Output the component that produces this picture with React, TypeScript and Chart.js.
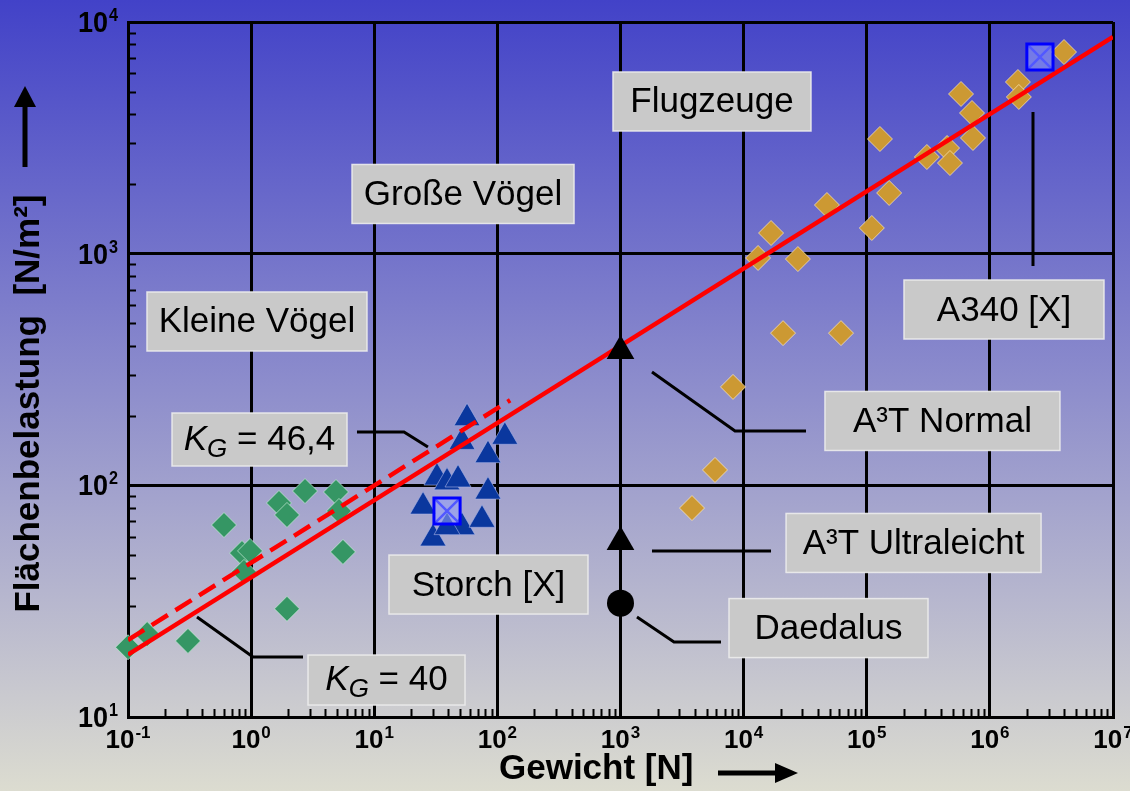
import React, { useEffect, useRef } from 'react';
import { Chart, registerables } from 'chart.js';

Chart.register(...registerables);

const FONT = '"Liberation Sans", Arial, Helvetica, sans-serif';

// ---- axes ----
const xDecades = [0.1, 1, 10, 100, 1000, 1e4, 1e5, 1e6, 1e7];
const xTickExponents = ['-1', '0', '1', '2', '3', '4', '5', '6', '7'];
const yDecades = [10, 100, 1000, 10000];
const yTickExponents = ['1', '2', '3', '4'];
const tickBase = '10';
const minorMultipliers = [2, 3, 4, 5, 6, 7, 8, 9];
const xTitle = 'Gewicht [N]';
const yTitle = 'Flächenbelastung  [N/m²]';

// ---- data: Kleine Vögel (green diamonds) ----
const kleineVoegelGewicht = [0.1, 0.143, 0.307, 0.602, 0.843, 0.98, 0.875, 1.684, 1.956, 2.74, 4.89, 5.17, 5.57, 1.956];
const kleineVoegelBelastung = [20, 22.8, 21.3, 67.4, 51, 52.1, 42.3, 83.9, 74.5, 94.5, 93.6, 77.5, 51.6, 29.3];

// ---- data: Große Vögel / Storch (blue triangles) ----
const grosseVoegelGewicht = [56.7, 115, 51.6, 83.9, 32.3, 39, 47.9, 83.9, 24.9, 51.6, 75, 30, 39];
const grosseVoegelBelastung = [195, 162, 154, 135, 108, 103, 106, 94, 81, 66, 71, 59, 66];

// ---- data: Flugzeuge (orange diamonds) ----
const flugzeugeGewicht = [4.0e6, 1.69e6, 1.72e6, 5.83e5, 7.16e5, 7.29e5, 4.49e5, 3.08e5, 4.74e5, 1.28e5, 1.52e5, 1.10e5, 4.75e4, 1.67e4, 1.31e4, 2.76e4, 2.09e4, 6.18e4, 8200, 5855, 3808];
const flugzeugeBelastung = [7420, 5508, 4746, 4889, 4048, 3158, 2858, 2614, 2462, 3126, 1828, 1291, 1622, 1228, 958, 948, 454, 454, 266, 116.5, 79.8];

// ---- data: reference points [X] (Storch, A340) ----
const referenzGewicht = [39, 2.55e6];
const referenzBelastung = [77.5, 7060];

// ---- data: A3T (Normal, Ultraleicht) and Daedalus ----
const a3tGewicht = [1000, 1000];
const a3tBelastung = [380, 57];
const daedalusGewicht = [1000];
const daedalusBelastung = [31];

// ---- data: fit lines K_G = 40 (solid) and K_G = 46,4 (dashed) ----
const kg40Gewicht = [0.1, 1e7];
const kg40Belastung = [18.6, 8620];
const kg464Gewicht = [0.1, 127];
const kg464Belastung = [21.5, 233];

// ---- annotation leaders (data coordinates) ----
const leaderKg464X = [7.24, 17.44, 27.3];
const leaderKg464Y = [169.9, 169.9, 146.4];
const leaderKg40X = [0.3634, 1.036, 2.638];
const leaderKg40Y = [27.02, 18.16, 18.16];
const leaderNormalX = [1802, 8511, 32110];
const leaderNormalY = [308.4, 171.6, 171.6];
const leaderUltraX = [1802, 16690];
const leaderUltraY = [52.1, 52.1];
const leaderDaedalusX = [1361, 2720, 6549];
const leaderDaedalusY = [27.02, 21.08, 21.08];
const leaderA340X = [2.24e6, 2.24e6];
const leaderA340Y = [4088, 884.6];

// ---- label boxes (anchors in data coordinates) ----
const boxLabels = ['Flugzeuge', 'Große Vögel', 'Kleine Vögel', 'A340 [X]', 'A³T Normal', 'A³T Ultraleicht', 'Daedalus', 'Storch [X]'];
const boxLabelX = [5534, 52.6, 1.116, 1.302e6, 4.12e5, 2.4e5, 48920, 84.7];
const boxLabelY = [4538, 1810, 509.6, 574, 189.6, 56.4, 24.2, 37.3];
const kgValues = ['46,4', '40'];
const kgLabelX = [1.17, 12.58];
const kgLabelY = [157.7, 14.44];

// ---- styles ----
const boxWidths = [198, 222, 220, 200, 235, 255, 199, 199];
const kgBoxWidths = [175, 157];
const kgBoxHeights = [53, 50];

const pts = (xs: number[], ys: number[]) => xs.map((x, i) => ({ x, y: ys[i] }));

const leader = (xs: number[], ys: number[]) => ({
  data: pts(xs, ys),
  showLine: true,
  borderColor: '#000',
  borderWidth: 3,
  pointRadius: 0,
  order: 5,
});

function drawPower(
  ctx: CanvasRenderingContext2D,
  exp: string,
  x: number,
  baseline: number,
  align: 'center' | 'right',
  baseSize: number,
  expSize: number,
  sx: number,
  rise: number,
) {
  const baseFont = `bold ${baseSize}px ${FONT}`;
  const expFont = `bold ${expSize}px ${FONT}`;
  ctx.font = baseFont;
  const wb = ctx.measureText(tickBase).width;
  ctx.font = expFont;
  const we = ctx.measureText(exp).width;
  const total = (wb + we + 1) * sx;
  const left = align === 'center' ? x - total / 2 : x - total;
  ctx.save();
  ctx.translate(left, baseline);
  ctx.scale(sx, 1);
  ctx.fillStyle = '#000';
  ctx.textAlign = 'left';
  ctx.textBaseline = 'alphabetic';
  ctx.font = baseFont;
  ctx.fillText(tickBase, 0, 0);
  ctx.font = expFont;
  ctx.fillText(exp, wb + 1, -rise);
  ctx.restore();
}

const decorPlugin = {
  id: 'decor',
  beforeDraw(chart: any) {
    const { ctx, width, height } = chart;
    const g = ctx.createLinearGradient(0, 0, 0, height);
    g.addColorStop(0, '#4242c8');
    g.addColorStop(1, '#dcdcd0');
    ctx.save();
    ctx.fillStyle = g;
    ctx.fillRect(0, 0, width, height);
    ctx.restore();
  },
  beforeDatasetsDraw(chart: any) {
    const { ctx, chartArea } = chart;
    const xs = chart.scales.x;
    const ys = chart.scales.y;
    ctx.save();
    // minor ticks
    ctx.strokeStyle = '#000';
    ctx.lineWidth = 2;
    ctx.beginPath();
    for (let i = 0; i < xDecades.length - 1; i++) {
      for (const m of minorMultipliers) {
        const px = Math.round(xs.getPixelForValue(xDecades[i] * m)) + 0.5;
        ctx.moveTo(px, chartArea.bottom);
        ctx.lineTo(px, chartArea.bottom - 8);
      }
    }
    for (let i = 0; i < yDecades.length - 1; i++) {
      for (const m of minorMultipliers) {
        const py = Math.round(ys.getPixelForValue(yDecades[i] * m)) + 0.5;
        ctx.moveTo(chartArea.left, py);
        ctx.lineTo(chartArea.left + 8, py);
      }
    }
    ctx.stroke();

    const drawBox = (cx: number, cy: number, w: number, h: number) => {
      ctx.fillStyle = '#c9c9c9';
      ctx.fillRect(cx - w / 2, cy - h / 2, w, h);
      ctx.strokeStyle = 'rgba(236,236,236,0.9)';
      ctx.lineWidth = 1.5;
      ctx.strokeRect(cx - w / 2, cy - h / 2, w, h);
    };

    // label boxes
    boxLabels.forEach((t, i) => {
      const cx = xs.getPixelForValue(boxLabelX[i]);
      const cy = ys.getPixelForValue(boxLabelY[i]);
      drawBox(cx, cy, boxWidths[i], 59);
      ctx.fillStyle = '#000';
      ctx.font = `35px ${FONT}`;
      ctx.textAlign = 'center';
      ctx.textBaseline = 'alphabetic';
      ctx.fillText(t, cx, cy + 11);
    });

    // K_G boxes with rich text
    kgValues.forEach((v, i) => {
      const cx = xs.getPixelForValue(kgLabelX[i]);
      const cy = ys.getPixelForValue(kgLabelY[i]);
      drawBox(cx, cy, kgBoxWidths[i], kgBoxHeights[i]);
      const segs = [
        { t: 'K', f: `italic 35px ${FONT}`, dy: 0 },
        { t: 'G', f: `italic 26px ${FONT}`, dy: 7 },
        { t: ' = ' + v, f: `35px ${FONT}`, dy: 0 },
      ];
      let total = 0;
      const ws = segs.map((s) => {
        ctx.font = s.f;
        const w = ctx.measureText(s.t).width;
        total += w;
        return w;
      });
      let x = cx - total / 2;
      ctx.fillStyle = '#000';
      ctx.textAlign = 'left';
      ctx.textBaseline = 'alphabetic';
      segs.forEach((s, k) => {
        ctx.font = s.f;
        ctx.fillText(s.t, x, cy + 10 + s.dy);
        x += ws[k];
      });
    });
    ctx.restore();
  },
  afterDraw(chart: any) {
    const { ctx, chartArea } = chart;
    const xs = chart.scales.x;
    const ys = chart.scales.y;
    // tick labels (10 with superscript exponent)
    xDecades.forEach((v, i) => {
      drawPower(ctx, xTickExponents[i], xs.getPixelForValue(v), chartArea.bottom + 31, 'center', 26, 17, 1, 10);
    });
    yDecades.forEach((v, i) => {
      drawPower(ctx, yTickExponents[i], chartArea.left - 10, ys.getPixelForValue(v) + 10, 'right', 30, 18, 0.9, 11);
    });

    ctx.save();
    ctx.fillStyle = '#000';
    // y arrow (pointing up), left of chart
    const ax = chartArea.left - 103;
    const tail = chartArea.top + 145;
    const tip = chartArea.top + 64;
    ctx.fillRect(ax - 2.5, tip + 18, 5, tail - tip - 18);
    ctx.beginPath();
    ctx.moveTo(ax, tip);
    ctx.lineTo(ax - 11, tip + 21);
    ctx.lineTo(ax + 11, tip + 21);
    ctx.closePath();
    ctx.fill();
    // x arrow (pointing right), below chart
    const ay = chartArea.bottom + 56;
    const x0 = chartArea.left + 590;
    const x1 = chartArea.left + 670;
    ctx.fillRect(x0, ay - 2.5, x1 - x0 - 20, 5);
    ctx.beginPath();
    ctx.moveTo(x1, ay);
    ctx.lineTo(x1 - 23, ay - 10);
    ctx.lineTo(x1 - 23, ay + 10);
    ctx.closePath();
    ctx.fill();
    ctx.restore();
  },
};

export default function App() {
  const ref = useRef<HTMLCanvasElement | null>(null);

  useEffect(() => {
    if (!ref.current) return;
    const chart = new Chart(ref.current, {
      type: 'scatter',
      data: {
        datasets: [
          {
            label: 'Referenz [X]',
            data: pts(referenzGewicht, referenzBelastung),
            pointStyle: 'rect',
            pointRadius: 18.5,
            pointBackgroundColor: 'rgba(150,160,255,0.55)',
            pointBorderColor: '#0000ff',
            pointBorderWidth: 3,
            order: 0,
          },
          {
            label: 'Referenz X',
            data: pts(referenzGewicht, referenzBelastung),
            pointStyle: 'crossRot',
            pointRadius: 16.5,
            pointBorderColor: '#0000ff',
            pointBorderWidth: 2.5,
            order: 0,
          },
          {
            label: 'A³T',
            data: pts(a3tGewicht, a3tBelastung),
            pointStyle: 'triangle',
            pointRadius: 16,
            pointBackgroundColor: '#000',
            pointBorderColor: '#000',
            pointBorderWidth: 0,
            order: 1,
          },
          {
            label: 'Daedalus',
            data: pts(daedalusGewicht, daedalusBelastung),
            pointStyle: 'circle',
            pointRadius: 13.5,
            pointBackgroundColor: '#000',
            pointBorderColor: '#000',
            pointBorderWidth: 0,
            order: 1,
          },
          {
            label: 'K_G = 40',
            data: pts(kg40Gewicht, kg40Belastung),
            showLine: true,
            borderColor: '#ff0000',
            borderWidth: 4.5,
            pointRadius: 0,
            order: 2,
          },
          {
            label: 'K_G = 46,4',
            data: pts(kg464Gewicht, kg464Belastung),
            showLine: true,
            borderColor: '#ff0000',
            borderWidth: 4.5,
            borderDash: [19, 9],
            pointRadius: 0,
            order: 2,
          },
          {
            label: 'Flugzeuge',
            data: pts(flugzeugeGewicht, flugzeugeBelastung),
            pointStyle: 'rectRot',
            pointRadius: 12.5,
            pointBackgroundColor: '#cc9933',
            pointBorderColor: 'rgba(255,235,190,0.7)',
            pointBorderWidth: 1,
            order: 3,
          },
          {
            label: 'Große Vögel',
            data: pts(grosseVoegelGewicht, grosseVoegelBelastung),
            pointStyle: 'triangle',
            pointRadius: 15,
            pointBackgroundColor: '#0a379e',
            pointBorderColor: 'rgba(170,180,230,0.6)',
            pointBorderWidth: 1,
            order: 3,
          },
          {
            label: 'Kleine Vögel',
            data: pts(kleineVoegelGewicht, kleineVoegelBelastung),
            pointStyle: 'rectRot',
            pointRadius: 12.5,
            pointBackgroundColor: '#359664',
            pointBorderColor: 'rgba(200,235,215,0.7)',
            pointBorderWidth: 1,
            clip: false,
            order: 3,
          },
          leader(leaderKg464X, leaderKg464Y),
          leader(leaderKg40X, leaderKg40Y),
          leader(leaderNormalX, leaderNormalY),
          leader(leaderUltraX, leaderUltraY),
          leader(leaderDaedalusX, leaderDaedalusY),
          leader(leaderA340X, leaderA340Y),
        ] as any,
      },
      options: {
        animation: false,
        responsive: false,
        devicePixelRatio: 1,
        events: [],
        layout: { autoPadding: false, padding: { top: 22, right: 17, left: 0, bottom: 0 } },
        plugins: { legend: { display: false }, tooltip: { enabled: false } },
        scales: {
          x: {
            type: 'logarithmic',
            position: 'bottom',
            min: xDecades[0],
            max: xDecades[xDecades.length - 1],
            afterBuildTicks: (s: any) => {
              s.ticks = xDecades.map((v) => ({ value: v }));
            },
            afterFit: (s: any) => {
              s.height = 74;
              s.paddingLeft = 0;
              s.paddingRight = 0;
            },
            ticks: { display: false },
            grid: { color: '#000', lineWidth: 3, drawTicks: false },
            border: { color: '#000', width: 3 },
            title: {
              display: true,
              text: xTitle + '     ',
              color: '#000',
              font: { family: FONT, size: 35, weight: 'bold', lineHeight: 1 },
              padding: { top: 0, bottom: 4 },
            },
          },
          y: {
            type: 'logarithmic',
            position: 'left',
            min: yDecades[0],
            max: yDecades[yDecades.length - 1],
            afterBuildTicks: (s: any) => {
              s.ticks = yDecades.map((v) => ({ value: v }));
            },
            afterFit: (s: any) => {
              s.width = 128;
              s.paddingTop = 0;
              s.paddingBottom = 0;
            },
            ticks: { display: false },
            grid: { color: '#000', lineWidth: 3, drawTicks: false },
            border: { color: '#000', width: 3 },
            title: {
              display: true,
              text: yTitle + '       ',
              color: '#000',
              font: { family: FONT, size: 35, weight: 'bold', lineHeight: 1 },
              padding: { top: 12, bottom: 0 },
            },
          },
        },
      } as any,
      plugins: [decorPlugin],
    });
    return () => chart.destroy();
  }, []);

  return (
    <div
      style={{
        position: 'absolute',
        left: 0,
        top: 0,
        width: 1130,
        height: 791,
        background: 'linear-gradient(#4242c8, #dcdcd0)',
      }}
    >
      <canvas ref={ref} width={1130} height={791} style={{ display: 'block', width: 1130, height: 791 }} />
    </div>
  );
}
